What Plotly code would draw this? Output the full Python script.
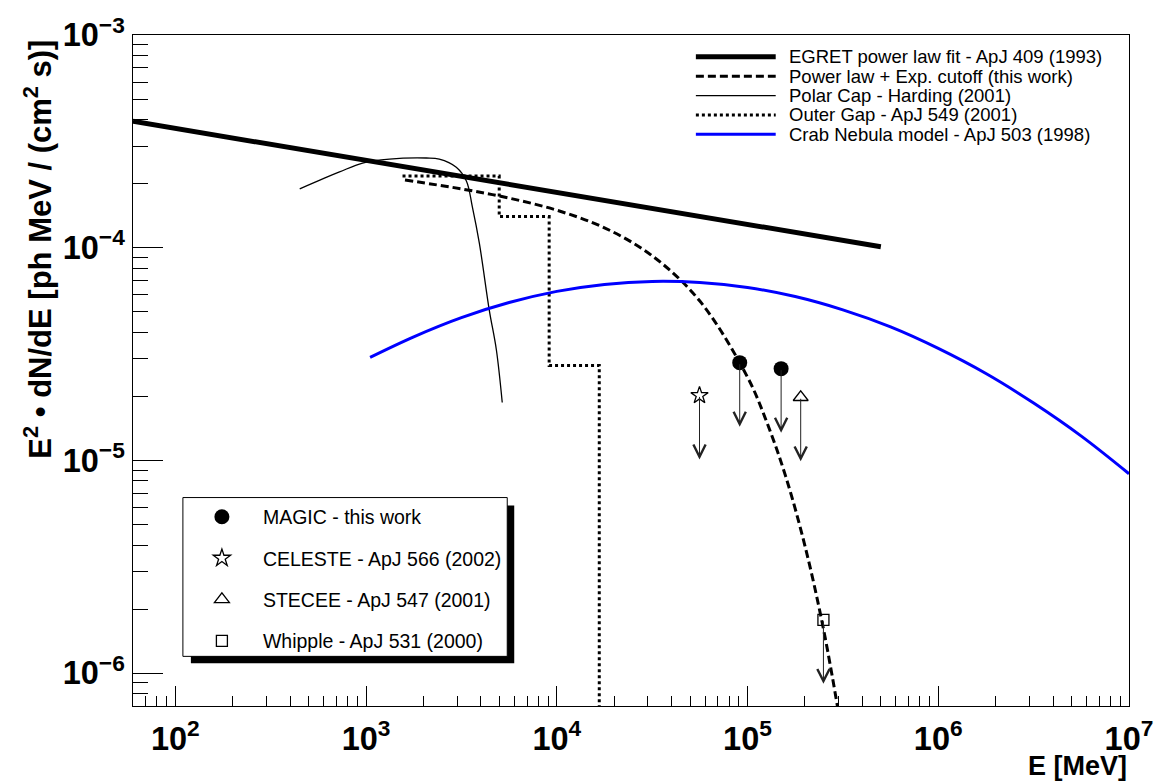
import math
import plotly.graph_objects as go

# ---- data: energies in MeV, fluxes as E^2 dN/dE in ph MeV / (cm^2 s) ----

# EGRET power-law fit
egret_E = [60, 5.0e5]
egret_F = [3.93e-4, 1.01e-4]

# Power law with exponential cutoff
cut_E = [1600, 3162, 5623, 1.0e4, 1.778e4, 3.162e4, 5.623e4, 1.0e5, 1.259e5, 1.585e5, 1.995e5, 2.512e5, 3.162e5]
cut_F = [2.08e-4, 1.89e-4, 1.71e-4, 1.50e-4, 1.24e-4, 9.16e-5, 5.61e-5, 2.46e-5, 1.52e-5, 8.41e-6, 4.00e-6, 1.58e-6, 4.91e-7]

# Polar cap model
pc_E = [449, 726, 959, 1327, 2070, 2421, 2972, 3357, 3606, 3926, 4426, 4819, 5176]
pc_F = [1.89e-4, 2.27e-4, 2.50e-4, 2.61e-4, 2.64e-4, 2.61e-4, 2.39e-4, 2.06e-4, 1.56e-4, 1.05e-4, 5.09e-5, 3.32e-5, 1.87e-5]

# Outer gap model (binned, lower bin edges)
og_E = [1553, 4990, 9120, 16700]
og_F = [2.17e-4, 1.40e-4, 2.79e-5, 1.0e-12]

# Crab Nebula inverse-Compton model
crab_E = [1050, 1778, 3162, 5623, 1.0e4, 1.778e4, 3.162e4, 5.623e4, 1.0e5, 1.778e5,
          3.162e5, 5.623e5, 1.0e6, 1.778e6, 3.162e6, 5.623e6, 1.0e7]
crab_F = [3.05e-5, 3.81e-5, 4.69e-5, 5.52e-5, 6.23e-5, 6.72e-5, 6.94e-5, 6.86e-5, 6.50e-5, 5.89e-5,
          5.10e-5, 4.24e-5, 3.36e-5, 2.56e-5, 1.86e-5, 1.30e-5, 8.65e-6]

# Upper limits
magic_E = [9.1e4, 1.5e5]
magic_F = [2.88e-5, 2.70e-5]
celeste_E = [5.6e4]
celeste_F = [2.02e-5]
stacee_E = [1.9e5]
stacee_F = [1.98e-5]
whipple_E = [2.5e5]
whipple_F = [1.78e-6]

E_RANGE = (60, 1e7)
F_RANGE = (7e-7, 1e-3)

line_labels = [
    "EGRET power law fit - ApJ 409 (1993)",
    "Power law + Exp. cutoff (this work)",
    "Polar Cap - Harding (2001)",
    "Outer Gap - ApJ 549 (2001)",
    "Crab Nebula model - ApJ 503 (1998)",
]
point_labels = [
    "MAGIC - this work",
    "CELESTE - ApJ 566 (2002)",
    "STECEE - ApJ 547 (2001)",
    "Whipple - ApJ 531 (2000)",
]

# ---- canvas geometry ----
W, H = 1165, 783
ML, MR, MT, MB = 133, 34, 30, 77
PW, PH = W - ML - MR, H - MT - MB


def px(x):
    return (x - ML) / PW


def py(y):
    return (H - MB - y) / PH


FONT = "Liberation Sans, Arial, Helvetica, sans-serif"

line_styles = [
    dict(color="black", width=5),
    dict(color="black", width=3, dash="8px,4px"),
    dict(color="black", width=1.3),
    dict(color="black", width=3, dash="3px,3px"),
    dict(color="#0000ff", width=3),
]

fig = go.Figure()

curves = [
    (egret_E, egret_F, "linear"),
    (cut_E, cut_F, "spline"),
    (pc_E, pc_F, "spline"),
    (og_E, og_F, "hv"),
    (crab_E, crab_F, "spline"),
]
for (xs, ys, shape), style, name in zip(curves, line_styles, line_labels):
    fig.add_trace(go.Scatter(
        x=xs, y=ys, mode="lines", name=name, showlegend=False,
        line=dict(shape=shape, **style),
    ))

point_sets = [
    (magic_E, magic_F, dict(symbol="circle", size=15, color="black")),
    (celeste_E, celeste_F, dict(symbol="star-open", size=13, color="black", line=dict(width=1.3, color="black"))),
    (stacee_E, stacee_F, dict(symbol="triangle-up-open", size=13, color="black", line=dict(width=1.3, color="black"))),
    (whipple_E, whipple_F, dict(symbol="square-open", size=11, color="black", line=dict(width=1.3, color="black"))),
]

annotations = []
for i, ((xs, ys, marker), name) in enumerate(zip(point_sets, point_labels)):
    fig.add_trace(go.Scatter(
        x=xs, y=ys, mode="markers", name=name, marker=marker,
        legend="legend2", legendgroup=f"g{i}", showlegend=True,
    ))
    # downward arrows: each limit points to half of its value
    for e, f in zip(xs, ys):
        annotations.append(dict(
            x=math.log10(e), y=math.log10(f / 2), ax=math.log10(e), ay=math.log10(f),
            xref="x", yref="y", axref="x", ayref="y", text="", showarrow=True,
            arrowhead=5, arrowsize=2.4, arrowwidth=1, arrowcolor="#222222",
        ))

# top-right legend: line samples and labels
rows_top = [52, 71.5, 91, 110.5, 130]
shapes = []
for y, style, label in zip(rows_top, line_styles, line_labels):
    shapes.append(dict(type="line", xref="paper", yref="paper",
                       x0=px(697), x1=px(777), y0=py(y), y1=py(y), line=style))
    annotations.append(dict(x=px(788), y=py(y), xref="paper", yref="paper", text=label,
                            showarrow=False, xanchor="left", yanchor="middle",
                            font=dict(family=FONT, size=18.5, color="black")))

# bottom-left legend box with drop shadow
shapes.insert(0, dict(type="rect", xref="paper", yref="paper", layer="below",
                      x0=px(191), x1=px(515), y0=py(663), y1=py(504),
                      fillcolor="black", line=dict(width=0)))
shapes.insert(1, dict(type="rect", xref="paper", yref="paper", layer="below",
                      x0=px(183), x1=px(508), y0=py(656), y1=py(496),
                      fillcolor="white", line=dict(color="black", width=1)))

# axis titles
annotations.append(dict(
    x=px(38), y=py(33), xref="paper", yref="paper", textangle=-90,
    xanchor="center", yanchor="top", showarrow=False,
    text="E<sup>2</sup> \u2022 dN/dE [ph MeV / (cm<sup>2</sup> s)]",
    font=dict(family=FONT, size=31, color="black", weight="bold"),
))
annotations.append(dict(
    x=1, y=py(784), xref="paper", yref="paper", xanchor="right", yanchor="bottom",
    showarrow=False, text="E [MeV]",
    font=dict(family=FONT, size=27, color="black", weight="bold"),
))

tickfont = dict(family=FONT, size=26, color="black", weight="bold")
common = dict(type="log", dtick=1, exponentformat="power", showgrid=False, zeroline=False,
              showline=True, linecolor="black", linewidth=1, mirror=True,
              ticks="inside", tickcolor="black", tickwidth=1, tickfont=tickfont)

fig.update_layout(
    width=W, height=H,
    margin=dict(l=ML, r=MR, t=MT, b=MB, pad=0),
    paper_bgcolor="white", plot_bgcolor="rgba(0,0,0,0)",
    xaxis=dict(range=[math.log10(E_RANGE[0]), math.log10(E_RANGE[1])], ticklen=20,
               minor=dict(ticks="inside", ticklen=10, dtick="D1", tickcolor="black", showgrid=False),
               ticklabelstandoff=5, **common),
    yaxis=dict(range=[math.log10(F_RANGE[0]), math.log10(F_RANGE[1])], ticklen=30,
               minor=dict(ticks="inside", ticklen=15, dtick="D1", tickcolor="black", showgrid=False),
               ticklabelstandoff=2, **common),
    legend2=dict(x=px(181), y=py(496), xanchor="left", yanchor="top",
                 bgcolor="rgba(0,0,0,0)", borderwidth=0, itemwidth=72,
                 traceorder="grouped", tracegroupgap=13,
                 font=dict(family=FONT, size=19.5, color="black")),
    shapes=shapes,
    annotations=annotations,
)

fig.write_html("out.html")
